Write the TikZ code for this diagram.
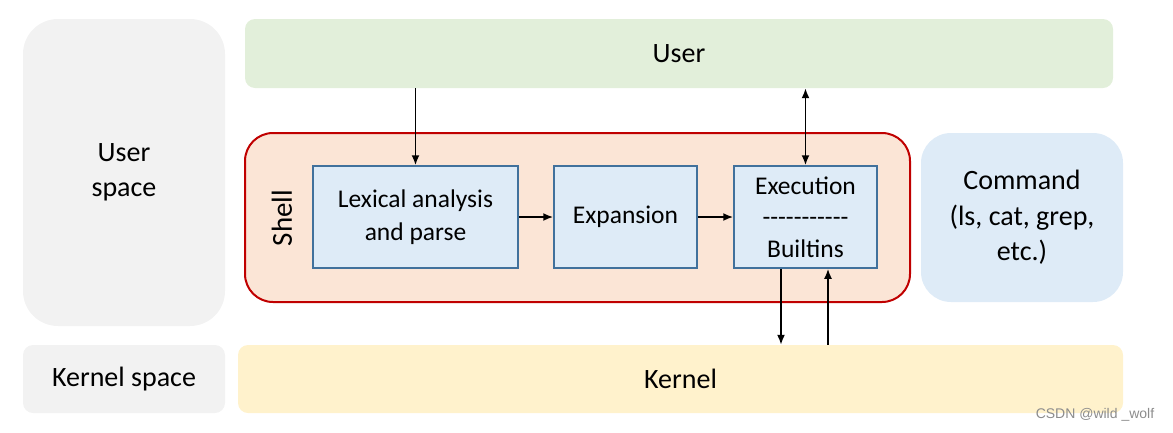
\documentclass[tikz,border=0pt]{standalone}
\usepackage{fontspec}
\setmainfont{Carlito}
\newfontfamily\markfont{Liberation Sans}
\usetikzlibrary{positioning,arrows.meta}

\definecolor{spacegray}{HTML}{F2F2F2}
\definecolor{usergreen}{HTML}{E2EFDA}
\definecolor{shellpeach}{HTML}{FBE5D6}
\definecolor{shellred}{HTML}{C00000}
\definecolor{stepblue}{HTML}{DEEBF7}
\definecolor{stepedge}{HTML}{41719C}
\definecolor{kernelyellow}{HTML}{FFF2CC}

\newcommand{\dashrow}{-{}-{}-{}-{}-{}-{}-{}-{}-{}-{}-}

\tikzset{
  bigtext/.style={font=\fontsize{28}{35.5}\selectfont, align=center},
  layer/.style={bigtext, rounded corners=10pt, inner sep=0pt},
  stagebox/.style={draw=stepedge, line width=1.5pt, fill=stepblue,
    minimum width=143pt, minimum height=102pt, inner sep=0pt,
    font=\fontsize{25.5}{33}\selectfont, align=center},
  flow/.style={-{Latex[length=10pt,width=8pt]}, line width=1.8pt},
}

\begin{document}
\begin{tikzpicture}[x=1pt, y=-1pt]
  \useasboundingbox (0,0) rectangle (1173,432);

  % left column
  \node (uspace) [layer, fill=spacegray, rounded corners=35pt,
    minimum width=202pt, minimum height=307pt] at (124,172.5) {User\\space};
  \node (kspace) [layer, fill=spacegray,
    minimum width=202pt, minimum height=68pt] at (124,379) {Kernel space};

  % layers
  \node (user) [layer, fill=usergreen,
    minimum width=868pt, minimum height=69pt] at (679,53.5) {User};
  \node (kernel) [layer, fill=kernelyellow,
    minimum width=885pt, minimum height=68pt] at (680.5,379) {Kernel};
  \node (shell) [draw=shellred, line width=2pt, fill=shellpeach,
    rounded corners=28pt, minimum width=665pt, minimum height=169pt]
    at (577.5,217.5) {};
  \node (cmd) [layer, fill=stepblue, rounded corners=30pt,
    minimum width=202pt, minimum height=169pt] at (1022,217.5)
    {Command\\(ls, cat, grep,\\etc.)};
  \node (shelltag) [rotate=90, font=\fontsize{29}{30}\selectfont]
    at (282,218) {Shell};

  % shell stages
  \node (lex) [stagebox, minimum width=205pt] at (415.5,217) {Lexical analysis\\and parse};
  \node (exp) [stagebox] at (625.5,217) {Expansion};
  \node (exec) [stagebox, font=\fontsize{25.5}{31.5}\selectfont]
    at (805.5,217) {Execution\\\dashrow\\Builtins};

  \draw [flow] (lex.north |- user.south) -- (lex.north);
  \draw [flow, {Latex[length=10pt,width=8pt]}-{Latex[length=10pt,width=8pt]}]
    (exec.north |- user.south) -- (exec.north);
  \draw [flow] (lex.east) -- (exp.west);
  \draw [flow] (exp.east) -- (exec.west);
  \draw [flow] ([xshift=-24.5pt]exec.south) -- ([xshift=-24.5pt]exec.south |- kernel.north);
  \draw [flow] ([xshift=22.5pt]exec.south |- kernel.north) -- ([xshift=22.5pt]exec.south);

  \node (mark) [font=\markfont\fontsize{14}{16}\selectfont, text=black!45]
    at (1095,415) {CSDN @wild \_wolf};
\end{tikzpicture}
\end{document}
